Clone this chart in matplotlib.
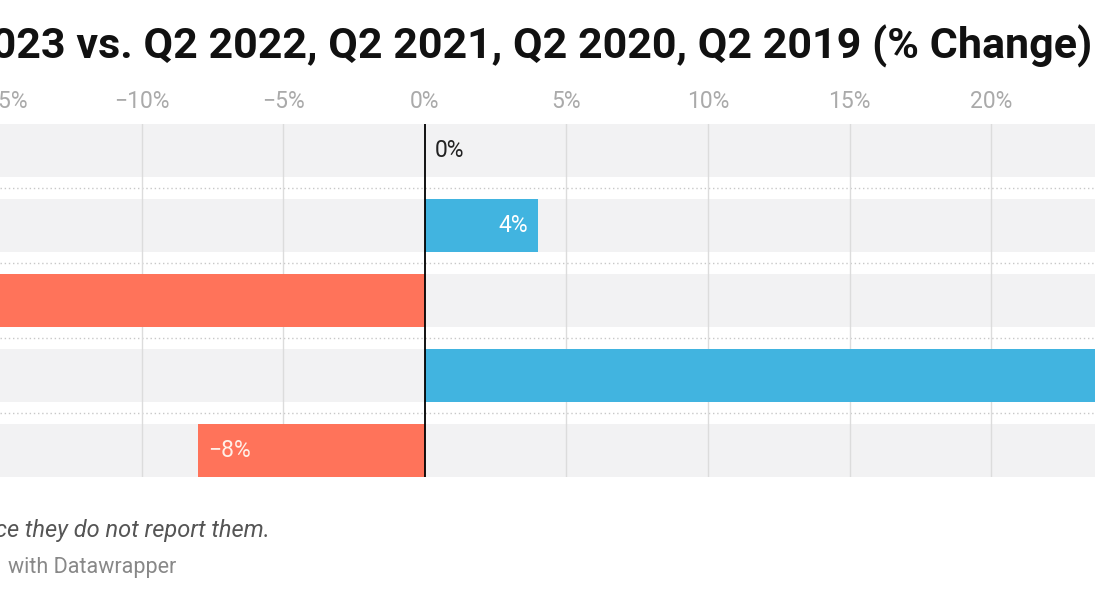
import matplotlib
matplotlib.use("Agg")
import matplotlib.pyplot as plt

plt.rcParams['font.family'] = ['Roboto', 'DejaVu Sans']

title = "Q2 2023 vs. Q2 2022, Q2 2021, Q2 2020, Q2 2019 (% Change)"
rows = [0, 1, 2, 3, 4]
values = [0, 4, -19, 27, -8]
tick_values = [-15, -10, -5, 0, 5, 10, 15, 20]
tick_labels = ["\u221215%", "\u221210%", "\u22125%", "0%", "5%", "10%", "15%", "20%"]
note_text = "ce they do not report them."
credit_text = "with Datawrapper"

BLUE = "#41b4e0"
RED = "#ff735a"
BAND = "#f2f2f3"


def main():
    W, H = 1095, 600
    fig = plt.figure(figsize=(W / 100, H / 100), dpi=100)
    # axes spans full width; plot area rows from y=124 to y=477
    ax = fig.add_axes([0, 1 - 477 / H, 1, (477 - 124) / H])
    px_per_pct = 142.6 / 5
    zero_px = 420
    xmin = -zero_px / px_per_pct
    xmax = (W - zero_px) / px_per_pct
    ax.set_xlim(xmin, xmax)
    ax.set_ylim(4.36, -0.36)

    bh = 53 / 75
    # grey row bands, wider than the view so they run to both edges
    ax.barh(rows, [xmax - xmin + 20] * len(rows), left=xmin - 10, height=bh,
            color=BAND, zorder=0)
    for k in range(len(rows) - 1):
        ax.axhline(k + 0.5, color="#c8c8c8", lw=1, ls=(0, (1, 2)), zorder=1)
    for t in tick_values:
        if t != 0 and xmin < t < xmax:
            ax.axvline(t, color="#dcdcdc", lw=1, zorder=1)

    colors = [BLUE if v >= 0 else RED for v in values]
    ax.barh(rows, values, height=bh, color=colors, zorder=2)
    ax.axvline(0, color="black", lw=1.3, zorder=3)

    for r, v in zip(rows, values):
        label = f"{v}%".replace("-", "\u2212")
        if v == 0:
            ax.text(0.35, r, label, ha="left", va="center", fontsize=16.5,
                    color="#222222", zorder=4)
        elif v > 0:
            ax.text(v - 0.35, r, label, ha="right", va="center", fontsize=16.5,
                    color="white", zorder=4)
        else:
            ax.text(v + 0.35, r, label, ha="left", va="center", fontsize=16.5,
                    color="#fff0e8", zorder=4)

    ax.set_xticks(tick_values)
    ax.set_xticklabels(tick_labels, fontsize=16.5, color="#aaaaaa")
    ax.xaxis.tick_top()
    ax.tick_params(axis="x", length=0, pad=8)
    ax.set_yticks([])
    for s in ax.spines.values():
        s.set_visible(False)
    ax.patch.set_alpha(0)

    fig.text(1092 / W, 1 - 46 / H, title, ha="right", va="center",
             fontsize=31, fontweight="bold", color="#111111")
    fig.text(270 / W, 1 - 531 / H, note_text, ha="right", va="center",
             fontsize=17, style="italic", color="#555555")
    fig.text(8 / W, 1 - 567 / H, credit_text, ha="left", va="center",
             fontsize=15.5, color="#888888")

    fig.savefig("out.png", dpi=100)


if __name__ == "__main__":
    main()
